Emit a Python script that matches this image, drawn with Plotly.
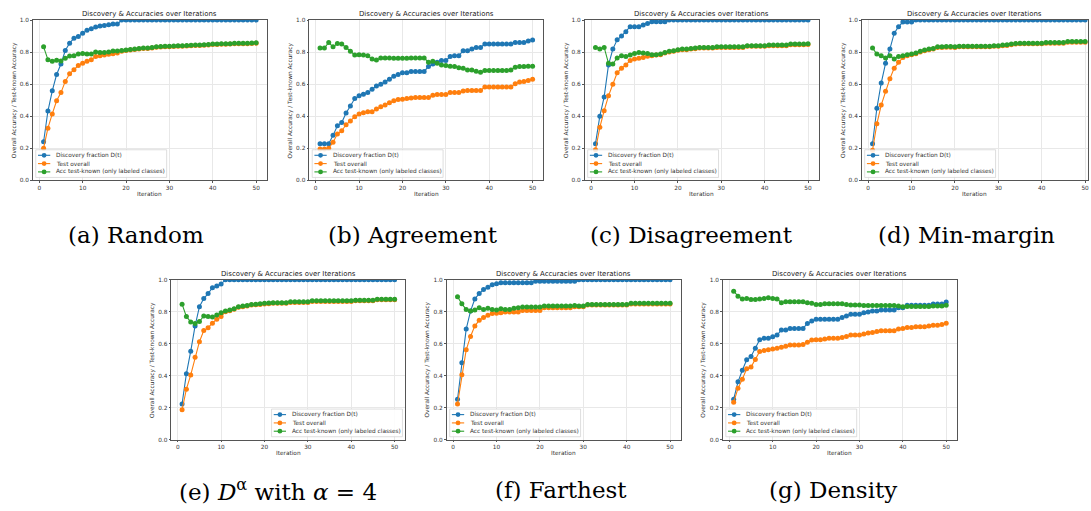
import plotly.graph_objects as go

# ---------------- data ----------------
iterations = list(range(1, 51))

random_disc = [0.240,0.432,0.558,0.660,0.726,0.810,0.856,0.887,0.897,0.918,
               0.936,0.946,0.957,0.963,0.967,0.971,0.975,0.975] + [1.0]*32
random_test = [0.200,0.325,0.414,0.496,0.547,0.617,0.665,0.690,0.716,0.730,
               0.743,0.753,0.772,0.778,0.782,0.786,0.790,0.794,0.806,0.810,
               0.813,0.816,0.820,0.822,0.822,0.826,0.830,0.832,0.834,0.834,
               0.835,0.837,0.837,0.839,0.840,0.841,0.842,0.843,0.845,0.847,
               0.848,0.849,0.849,0.850,0.852,0.853,0.853,0.853,0.854,0.855]
random_known = [0.833,0.753,0.743,0.749,0.745,0.761,0.776,0.778,0.788,0.792,
                0.788,0.788,0.800,0.798,0.798,0.800,0.807,0.807,0.810,0.813,
                0.817,0.819,0.823,0.825,0.825,0.829,0.833,0.835,0.837,0.837,
                0.838,0.840,0.840,0.842,0.843,0.844,0.845,0.846,0.848,0.850,
                0.851,0.852,0.852,0.853,0.855,0.856,0.856,0.856,0.857,0.858]

agree_disc = [0.228,0.228,0.228,0.280,0.340,0.360,0.420,0.463,0.510,0.527,
              0.537,0.547,0.568,0.588,0.599,0.613,0.630,0.650,0.660,0.671,
              0.671,0.679,0.679,0.679,0.679,0.710,0.726,0.737,0.747,0.747,
              0.772,0.778,0.778,0.809,0.809,0.819,0.829,0.829,0.850,0.850,
              0.850,0.850,0.850,0.850,0.850,0.860,0.860,0.860,0.870,0.875]
agree_test = [0.195,0.195,0.200,0.237,0.288,0.309,0.346,0.370,0.397,0.414,
              0.422,0.428,0.428,0.444,0.459,0.469,0.483,0.496,0.504,0.506,
              0.510,0.514,0.516,0.516,0.516,0.516,0.530,0.535,0.535,0.535,
              0.547,0.547,0.547,0.557,0.560,0.560,0.560,0.560,0.582,0.582,
              0.582,0.582,0.582,0.582,0.582,0.603,0.613,0.617,0.623,0.630]
agree_known = [0.825,0.825,0.860,0.833,0.854,0.850,0.829,0.805,0.782,0.784,
               0.782,0.778,0.757,0.751,0.763,0.763,0.763,0.761,0.761,0.761,
               0.761,0.763,0.763,0.763,0.763,0.737,0.743,0.730,0.720,0.716,
               0.712,0.710,0.702,0.700,0.689,0.689,0.681,0.675,0.685,0.685,
               0.685,0.685,0.685,0.685,0.689,0.706,0.710,0.710,0.712,0.712]

disagree_disc = [0.228,0.400,0.520,0.720,0.819,0.877,0.900,0.928,0.959,0.959,
                 0.959,0.969,0.979,0.990,0.990,0.990,0.990] + [1.0]*33
disagree_test = [0.190,0.330,0.434,0.527,0.599,0.671,0.700,0.720,0.747,0.757,
                 0.761,0.767,0.774,0.778,0.782,0.784,0.794,0.801,0.805,0.811,
                 0.815,0.815,0.819,0.821,0.825,0.825,0.825,0.825,0.829,0.829,
                 0.829,0.829,0.829,0.829,0.829,0.836,0.836,0.836,0.836,0.836,
                 0.840,0.840,0.840,0.840,0.840,0.846,0.846,0.846,0.846,0.848]
disagree_known = [0.829,0.819,0.829,0.730,0.726,0.763,0.778,0.772,0.782,0.792,
                  0.798,0.794,0.792,0.784,0.784,0.788,0.798,0.805,0.809,0.815,
                  0.819,0.819,0.823,0.825,0.829,0.829,0.829,0.829,0.833,0.833,
                  0.833,0.833,0.833,0.833,0.833,0.840,0.840,0.840,0.840,0.840,
                  0.844,0.844,0.844,0.844,0.844,0.850,0.850,0.850,0.850,0.852]

minmargin_disc = [0.228,0.449,0.607,0.730,0.819,0.918,0.959,0.988,0.988,0.988] + [1.0]*40
minmargin_test = [0.187,0.352,0.469,0.556,0.634,0.700,0.737,0.767,0.778,0.784,
                  0.790,0.801,0.809,0.815,0.819,0.829,0.829,0.831,0.831,0.829,
                  0.833,0.833,0.833,0.833,0.833,0.833,0.833,0.833,0.836,0.836,
                  0.840,0.842,0.846,0.850,0.852,0.852,0.852,0.852,0.852,0.852,
                  0.856,0.856,0.856,0.856,0.856,0.862,0.862,0.862,0.862,0.862]
minmargin_known = [0.825,0.788,0.778,0.763,0.778,0.757,0.772,0.778,0.784,0.788,
                   0.794,0.805,0.813,0.819,0.823,0.833,0.833,0.835,0.835,0.833,
                   0.837,0.837,0.837,0.837,0.837,0.837,0.837,0.837,0.840,0.840,
                   0.844,0.846,0.850,0.854,0.856,0.856,0.856,0.856,0.856,0.856,
                   0.860,0.860,0.860,0.860,0.860,0.866,0.866,0.866,0.866,0.866]

dalpha_disc = [0.223,0.412,0.553,0.711,0.831,0.882,0.913,0.950,0.960,0.973] + [1.0]*40
dalpha_test = [0.186,0.315,0.404,0.515,0.612,0.682,0.700,0.728,0.753,0.769,
               0.800,0.806,0.815,0.827,0.831,0.835,0.841,0.843,0.845,0.848,
               0.850,0.852,0.852,0.852,0.852,0.858,0.858,0.858,0.858,0.858,
               0.864,0.864,0.864,0.864,0.864,0.864,0.864,0.864,0.864,0.864,
               0.868,0.868,0.868,0.868,0.868,0.874,0.874,0.874,0.874,0.874]
dalpha_known = [0.847,0.769,0.736,0.726,0.738,0.773,0.769,0.767,0.779,0.794,
                0.804,0.810,0.819,0.831,0.835,0.839,0.845,0.847,0.849,0.852,
                0.854,0.856,0.856,0.856,0.856,0.862,0.862,0.862,0.862,0.862,
                0.868,0.868,0.868,0.868,0.868,0.868,0.868,0.868,0.868,0.868,
                0.872,0.872,0.872,0.872,0.872,0.878,0.878,0.878,0.878,0.878]

farthest_disc = [0.252,0.480,0.691,0.804,0.880,0.913,0.938,0.953,0.969,0.975,
                 0.981,0.981,0.981,0.981,0.981,0.981,0.981,0.981,
                 0.990,0.990,0.990,0.990,0.990,0.990,0.990,0.990,0.990,0.990] + [1.0]*22
farthest_test = [0.223,0.406,0.561,0.645,0.711,0.746,0.763,0.777,0.788,0.790,
                 0.794,0.798,0.798,0.798,0.798,0.808,0.808,0.808,0.808,0.808,
                 0.825,0.825,0.825,0.825,0.825,0.825,0.825,0.831,0.831,0.831,
                 0.841,0.841,0.841,0.841,0.841,0.841,0.841,0.841,0.841,0.841,
                 0.848,0.848,0.848,0.848,0.848,0.848,0.848,0.848,0.848,0.848]
farthest_known = [0.893,0.849,0.814,0.804,0.810,0.825,0.814,0.821,0.814,0.810,
                  0.819,0.814,0.814,0.821,0.825,0.829,0.829,0.829,0.829,0.829,
                  0.835,0.835,0.835,0.835,0.835,0.835,0.835,0.839,0.835,0.835,
                  0.845,0.845,0.845,0.845,0.845,0.845,0.845,0.845,0.845,0.845,
                  0.852,0.852,0.852,0.852,0.852,0.852,0.852,0.852,0.852,0.852]

density_disc = [0.252,0.361,0.433,0.499,0.520,0.571,0.625,0.633,0.633,0.643,
                0.654,0.685,0.685,0.695,0.695,0.695,0.695,0.726,0.742,0.753,
                0.753,0.753,0.753,0.753,0.753,0.763,0.773,0.784,0.784,0.784,
                0.794,0.798,0.804,0.804,0.810,0.810,0.810,0.810,0.825,0.825,
                0.840,0.840,0.840,0.840,0.840,0.840,0.848,0.848,0.848,0.860]
density_test = [0.233,0.320,0.377,0.443,0.454,0.501,0.551,0.557,0.561,0.567,
                0.571,0.577,0.584,0.592,0.592,0.592,0.594,0.608,0.623,0.625,
                0.625,0.629,0.633,0.633,0.633,0.639,0.645,0.654,0.654,0.654,
                0.660,0.666,0.670,0.676,0.680,0.680,0.680,0.680,0.691,0.695,
                0.701,0.701,0.705,0.705,0.705,0.711,0.715,0.715,0.720,0.728]
density_known = [0.928,0.897,0.880,0.882,0.876,0.876,0.880,0.882,0.887,0.882,
                 0.880,0.856,0.862,0.862,0.862,0.862,0.862,0.856,0.852,0.845,
                 0.845,0.849,0.849,0.849,0.849,0.849,0.845,0.841,0.841,0.841,
                 0.839,0.839,0.839,0.839,0.839,0.839,0.839,0.839,0.835,0.831,
                 0.833,0.833,0.833,0.833,0.833,0.833,0.836,0.836,0.836,0.840]

series_names = ["Discovery fraction D(t)", "Test overall",
                "Acc test-known (only labeled classes)"]
x_ticks = [0, 10, 20, 30, 40, 50]
y_ticks = [0.0, 0.2, 0.4, 0.6, 0.8, 1.0]
plot_title = "Discovery &amp; Accuracies over Iterations"
x_label = "Iteration"
y_label = "Overall Accuracy / Test-known Accuracy"

captions = ["(a) Random", "(b) Agreement", "(c) Disagreement", "(d) Min-margin",
            "(e) <i>D</i><sup>α</sup> with <i>α</i> = 4", "(f) Farthest", "(g) Density"]
panel_data = [
    (random_disc, random_test, random_known),
    (agree_disc, agree_test, agree_known),
    (disagree_disc, disagree_test, disagree_known),
    (minmargin_disc, minmargin_test, minmargin_known),
    (dalpha_disc, dalpha_test, dalpha_known),
    (farthest_disc, farthest_test, farthest_known),
    (density_disc, density_test, density_known),
]

# ---------------- layout (pixel geometry) ----------------
W, H = 1091, 511
COLORS = ["#1f77b4", "#ff7f0e", "#2ca02c"]
UNIT = 234.0 / 53.9

def px(x):
    return x / W

def py(y):
    return 1 - y / H

# left, right, top, bottom, legend side, caption centre x, caption centre y
panels = [
    (33.0, 267.0, 17.3, 179.3, "left", 136, 235),
    (309.7, 543.7, 17.3, 179.3, "left", 413, 235),
    (585.4, 819.4, 17.3, 179.3, "left", 692, 235),
    (862.7, 1089.0, 17.3, 179.3, "left", 967, 235),
    (171.6, 405.6, 280.0, 441.7, "right", 278, 493),
    (447.3, 681.3, 280.0, 441.7, "left", 562, 493),
    (723.7, 957.7, 280.0, 441.7, "left", 834, 493),
]

fig = go.Figure()
shapes = []
annotations = []
layout_axes = {}

FONT = "DejaVu Sans"
TXT = "#333333"
SMALL = 5.8

for k, ((left, right, top, bottom, lside, cx, cy), data) in enumerate(zip(panels, panel_data)):
    n = "" if k == 0 else str(k + 1)
    xmax = -1.45 + (right - left) / UNIT
    for s, vals in enumerate(data):
        fig.add_trace(go.Scatter(
            x=iterations, y=vals, mode="lines+markers",
            line=dict(color=COLORS[s], width=1.1),
            marker=dict(color=COLORS[s], size=5.0, line=dict(width=0)),
            xaxis="x" + n, yaxis="y" + n, showlegend=False, name=series_names[s]))
    common = dict(showgrid=True, gridcolor="#e8e8e8", gridwidth=0.6,
                  showline=True, mirror=True, linecolor="#555555", linewidth=0.8,
                  ticks="outside", ticklen=2, tickwidth=0.6, tickcolor="#555555",
                  tickfont=dict(size=SMALL, color=TXT, family=FONT),
                  zeroline=False, fixedrange=True)
    layout_axes["xaxis" + n] = dict(domain=[px(left), px(right)], range=[-1.45, xmax],
                                    tickvals=x_ticks, anchor="y" + n, **common)
    layout_axes["yaxis" + n] = dict(domain=[py(bottom), py(top)], range=[0, 1],
                                    tickvals=y_ticks, tickformat=".1f",
                                    anchor="x" + n, **common)
    mid_x = (left + right) / 2
    mid_y = (top + bottom) / 2
    annotations.append(dict(text=plot_title, x=px(mid_x), y=py(top - 5.8), xref="paper",
                            yref="paper", showarrow=False, xanchor="center", yanchor="middle",
                            font=dict(size=6.95, color="#222222", family=FONT)))
    annotations.append(dict(text=x_label, x=px(mid_x), y=py(bottom + 14), xref="paper",
                            yref="paper", showarrow=False, xanchor="center", yanchor="middle",
                            font=dict(size=SMALL, color=TXT, family=FONT)))
    annotations.append(dict(text=y_label, x=px(left - 19), y=py(mid_y), xref="paper",
                            yref="paper", showarrow=False, textangle=-90,
                            xanchor="center", yanchor="middle",
                            font=dict(size=SMALL, color=TXT, family=FONT)))
    annotations.append(dict(text=captions[k], x=px(cx), y=py(cy), xref="paper",
                            yref="paper", showarrow=False, xanchor="center", yanchor="middle",
                            font=dict(size=23, color="black", family="DejaVu Serif")))
    # legend box
    bw, bh = 131.0, 28.0
    if lside == "left":
        bx0 = left + 2.8
    else:
        bx0 = right - 2.8 - bw
    by1 = bottom - 2.8
    by0 = by1 - bh
    shapes.append(dict(type="rect", xref="paper", yref="paper",
                       x0=px(bx0), x1=px(bx0 + bw), y0=py(by1), y1=py(by0),
                       line=dict(color="#d0d0d0", width=0.7),
                       fillcolor="rgba(255,255,255,0.85)", layer="above"))
    for s in range(3):
        ey = by0 + 5.6 + s * 8.4
        shapes.append(dict(type="line", xref="paper", yref="paper",
                           x0=px(bx0 + 2.2), x1=px(bx0 + 14.5), y0=py(ey), y1=py(ey),
                           line=dict(color=COLORS[s], width=1.1), layer="above"))
        shapes.append(dict(type="circle", xref="paper", yref="paper",
                           xsizemode="pixel", ysizemode="pixel",
                           xanchor=px(bx0 + 8.35), yanchor=py(ey),
                           x0=-2.4, x1=2.4, y0=-2.4, y1=2.4,
                           fillcolor=COLORS[s], line=dict(width=0), layer="above"))
        annotations.append(dict(text=series_names[s], x=px(bx0 + 18.4), y=py(ey),
                                xref="paper", yref="paper", showarrow=False,
                                xanchor="left", yanchor="middle",
                                font=dict(size=SMALL, color=TXT, family=FONT)))

fig.update_layout(width=W, height=H, margin=dict(l=0, r=0, t=0, b=0),
                  paper_bgcolor="white", plot_bgcolor="white",
                  font=dict(family=FONT), showlegend=False,
                  shapes=shapes, annotations=annotations, **layout_axes)

fig.write_html("out.html")
